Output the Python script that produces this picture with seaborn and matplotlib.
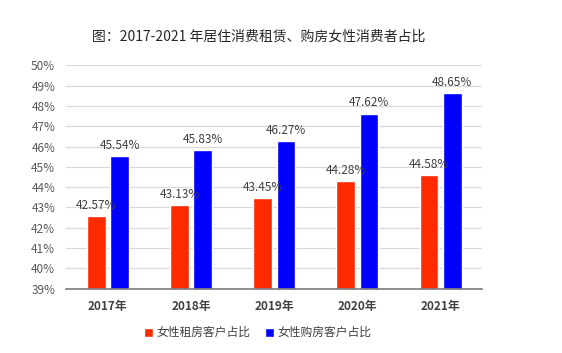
import pandas as pd
import numpy as np
import matplotlib.pyplot as plt
import seaborn as sns
from matplotlib.ticker import FuncFormatter

# 数据
years = ['2017年', '2018年', '2019年', '2020年', '2021年']
rent_share = [42.57, 43.13, 43.45, 44.28, 44.58]
buy_share = [45.54, 45.83, 46.27, 47.62, 48.65]
series_names = ['女性租房客户占比', '女性购房客户占比']

df = pd.DataFrame({
    'year': years * 2,
    'value': rent_share + buy_share,
    'series': [series_names[0]] * 5 + [series_names[1]] * 5,
})

sns.set_theme(style='white')
plt.rcParams['font.family'] = ['Noto Sans CJK SC', 'DejaVu Sans']

fig, ax = plt.subplots(figsize=(5.62, 3.53), dpi=100)
fig.subplots_adjust(left=0.118, right=0.858, top=0.815, bottom=0.182)

palette = {series_names[0]: '#ff2a00', series_names[1]: '#0000ff'}
sns.barplot(data=df, x='year', y='value', hue='series', palette=palette,
            width=0.56, gap=0.2, saturation=1, ax=ax, legend=True)

ax.set_ylim(39, 50)
ax.set_yticks(np.arange(39, 51, 1))
ax.yaxis.set_major_formatter(FuncFormatter(lambda v, p: f'{v:.0f}%'))
ax.grid(axis='y', color='#d9d9d9', linewidth=0.9)
ax.set_axisbelow(True)
for s in ['top', 'right', 'left']:
    ax.spines[s].set_visible(False)
ax.spines['bottom'].set_color('#808080')
ax.tick_params(axis='y', labelsize=8.5, colors='#595959', length=0, pad=8)
ax.tick_params(axis='x', labelsize=8.5, colors='#404040', length=0, pad=8)
for lbl in ax.get_xticklabels():
    lbl.set_fontweight('bold')
ax.set_xlabel('')
ax.set_ylabel('')

for cont in ax.containers:
    ax.bar_label(cont, labels=[f'{v:.2f}%' for v in cont.datavalues],
                 fontsize=8.5, color='#404040', padding=3)

ax.legend(loc='upper center', bbox_to_anchor=(0.46, -0.12), ncol=2,
          frameon=False, fontsize=8.5, handlelength=0.8, handleheight=0.8,
          columnspacing=1.2, handletextpad=0.3, labelcolor='#404040')

fig.suptitle('图：2017-2021 年居住消费租赁、购房女性消费者占比',
             x=0.46, y=0.915, fontsize=10, fontweight='medium', color='#262626')

fig.savefig('out.png', dpi=100)
